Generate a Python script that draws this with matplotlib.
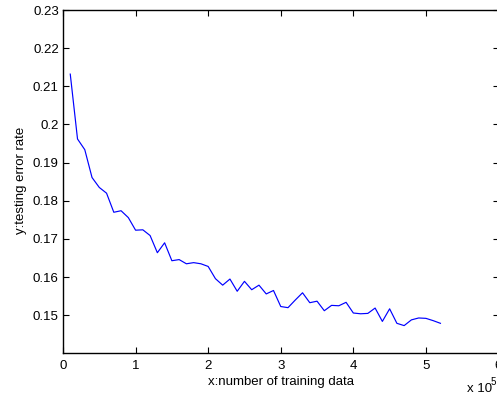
import matplotlib
matplotlib.use("Agg")
import matplotlib.pyplot as plt
import numpy as np

plt.rcParams['font.family'] = ['Liberation Sans', 'DejaVu Sans']

# training data size (x 10^5)
x_vals = [0.1, 0.2, 0.3, 0.4, 0.5, 0.6, 0.7, 0.8, 0.9, 1.0,
          1.1, 1.2, 1.3, 1.4, 1.5, 1.6, 1.7, 1.8, 1.9, 2.0,
          2.1, 2.2, 2.3, 2.4, 2.5, 2.6, 2.7, 2.8, 2.9, 3.0,
          3.1, 3.2, 3.3, 3.4, 3.5, 3.6, 3.7, 3.8, 3.9, 4.0,
          4.1, 4.2, 4.3, 4.4, 4.5, 4.6, 4.7, 4.8, 4.9, 5.0,
          5.1, 5.2]
# testing error rate
err_vals = [0.2132, 0.1962, 0.1934, 0.1861, 0.1835, 0.1820, 0.1770, 0.1774, 0.1756, 0.1723,
            0.1724, 0.1709, 0.1664, 0.1690, 0.1643, 0.1646, 0.1635, 0.1638, 0.1635, 0.1628,
            0.1596, 0.1579, 0.1595, 0.1563, 0.1589, 0.1567, 0.1579, 0.1556, 0.1565, 0.1523,
            0.1520, 0.1540, 0.1559, 0.1533, 0.1537, 0.1512, 0.1526, 0.1525, 0.1534, 0.1506,
            0.1504, 0.1505, 0.1519, 0.1484, 0.1517, 0.1479, 0.1473, 0.1488, 0.1493, 0.1492,
            0.1486, 0.1479]
x_ticks = [0, 1, 2, 3, 4, 5, 6]
y_ticks = [0.15, 0.16, 0.17, 0.18, 0.19, 0.2, 0.21, 0.22, 0.23]
y_tick_labels = ['0.15', '0.16', '0.17', '0.18', '0.19', '0.2', '0.21', '0.22', '0.23']

W, H = 497, 395
L, R, T, B = 63, 498.5, 10, 352.7
fig = plt.figure(figsize=(W / 100, H / 100), dpi=100)
ax = fig.add_axes([L / W, 1 - B / H, (R - L) / W, (B - T) / H])

ax.plot(x_vals, err_vals, color='#0000ff', lw=0.85)
ax.set_xlim(0, 6)
ax.set_ylim(0.1402, 0.23)
ax.set_xticks(x_ticks)
ax.set_xticklabels([str(t) for t in x_ticks])
ax.set_yticks(y_ticks)
ax.set_yticklabels(y_tick_labels)
ax.tick_params(direction='in', length=4, width=0.8, top=True, right=True,
               labelsize=9.5, colors='black')
ax.tick_params(axis='x', pad=5.5)
ax.tick_params(axis='y', pad=3)
for s in ax.spines.values():
    s.set_linewidth(1.0)
    s.set_color('black')

fig.text((L + R) / 2 / W, 1 - 381.7 / H, 'x:number of training data',
         fontsize=9.5, ha='center', va='center')
fig.text(21.5 / W, 1 - 180 / H, 'y:testing error rate', fontsize=9.5,
         rotation=90, ha='center', va='center')

fig.text(467 / W, 1 - 392 / H, 'x 10', fontsize=9.5, ha='left', va='baseline')
fig.text(491 / W, 1 - 385 / H, '5', fontsize=7, ha='left', va='baseline')

fig.savefig('out.png', dpi=100)
